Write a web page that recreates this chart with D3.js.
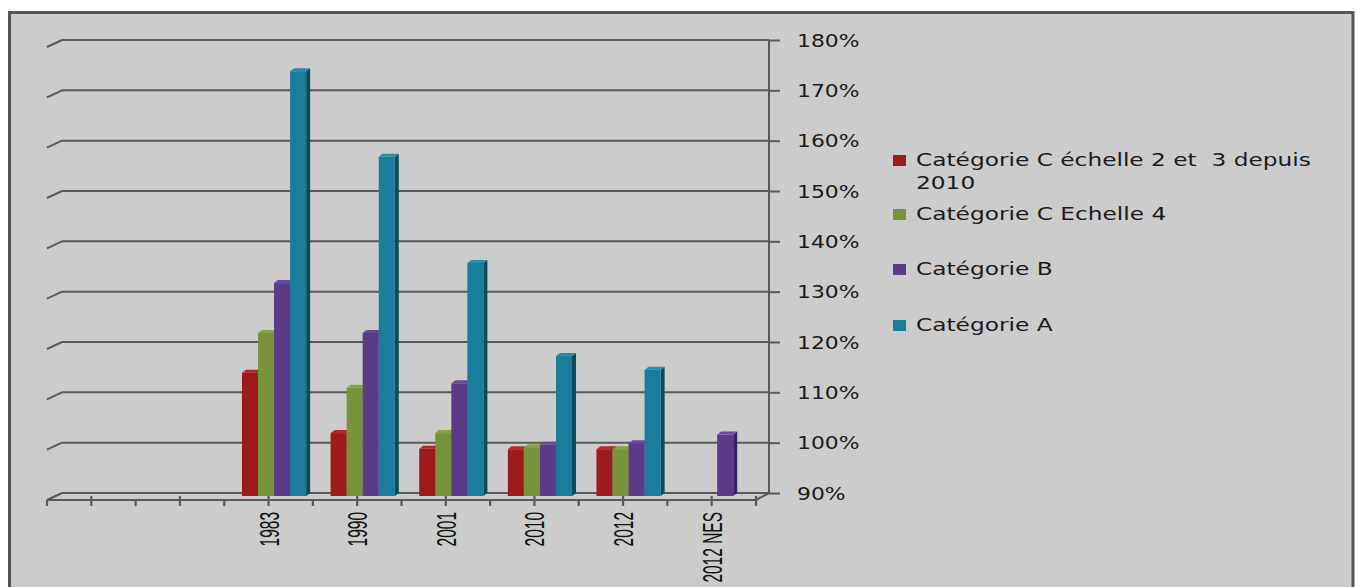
<!DOCTYPE html>
<html>
<head>
<meta charset="utf-8">
<script src="https://cdn.jsdelivr.net/npm/d3@7"></script>
<style>
  html, body { margin: 0; padding: 0; background: #ffffff; }
  svg { display: block; }
  text { white-space: pre; }
</style>
</head>
<body>
<svg id="chart" width="1356" height="587"></svg>
<script>
// ---- data ----
const categories = ["", "", "1983", "1990", "2001", "2010", "2012", "2012 NES"];
const seriesNames = [
  "Catégorie C échelle 2 et  3 depuis 2010",
  "Catégorie C Echelle 4",
  "Catégorie B",
  "Catégorie A"
];
const catC23 = [null, null, 114.5, 102.5, 99.4, 99.3, 99.3, null];
const catC4  = [null, null, 122.4, 111.5, 102.5, 99.7, 99.3, null];
const catB   = [null, null, 132.3, 122.4, 112.4, 100.2, 100.5, 102.2];
const catA   = [null, null, 174.4, 157.4, 136.3, 117.8, 115.1, null];
const yTicks = [90, 100, 110, 120, 130, 140, 150, 160, 170, 180];

const seriesValues = [catC23, catC4, catB, catA];
const frontColors = ["#9e1b1b", "#77933c", "#5b3b88", "#1b7d9c"];
const sideColors  = ["#6a1010", "#4f6326", "#3a2262", "#0b4a60"];
const capColors   = ["#b02a2a", "#86a246", "#6a4a98", "#2a8cab"];

// ---- layout ----
const svg = d3.select("#chart");
const W = 1356, H = 587;

svg.append("rect").attr("x", 0).attr("y", 0).attr("width", W).attr("height", H).attr("fill", "#ffffff");
svg.append("rect").attr("x", 9.5).attr("y", 12.5).attr("width", 1343.5).attr("height", H + 20)
  .attr("fill", "#cccccc").attr("stroke", "#555555").attr("stroke-width", 3);

const backLeft = 62, backRight = 769;
const frontLeft = 47, frontRight = 756;
const depthDy = 7;

const y = d3.scaleLinear().domain([90, 180]).range([493, 40]);
const x = d3.scaleBand().domain(categories.map((c, i) => i)).range([frontLeft, frontRight]).padding(0);
const bw = x.bandwidth();
const inner = d3.scaleBand().domain(d3.range(seriesValues.length))
  .range([bw * 0.2, bw * 0.2 + bw * 0.724]).padding(0);

const gridColor = "#5a5a5a";

// gridlines with left slant
const grid = svg.append("g");
yTicks.forEach(t => {
  const yy = y(t);
  grid.append("line").attr("x1", backLeft).attr("x2", backRight).attr("y1", yy).attr("y2", yy)
    .attr("stroke", gridColor).attr("stroke-width", 2);
  grid.append("line").attr("x1", frontLeft).attr("y1", yy + depthDy).attr("x2", backLeft).attr("y2", yy)
    .attr("stroke", gridColor).attr("stroke-width", 2);
});

// right axis
const yAxis = d3.axisRight(y).tickValues(yTicks).tickSize(11).tickPadding(16)
  .tickFormat(d => d + "%");
const gy = svg.append("g").attr("transform", `translate(${backRight},0)`).call(yAxis);
gy.select(".domain").attr("stroke", gridColor).attr("stroke-width", 2).attr("d", `M0,${y(180)}V${y(90)}`);
gy.selectAll(".tick line").attr("stroke", gridColor).attr("stroke-width", 2);
gy.selectAll(".tick text")
  .attr("fill", "#1a1a1a")
  .attr("font-family", "DejaVu Sans, Verdana, sans-serif")
  .attr("font-size", 17.5)
  .attr("dy", "0.36em")
  .attr("x", 0)
  .attr("transform", "translate(28,0) scale(1.25,1)");

// floor front line and right slant
svg.append("line").attr("x1", frontLeft).attr("x2", frontRight).attr("y1", y(90) + depthDy).attr("y2", y(90) + depthDy)
  .attr("stroke", gridColor).attr("stroke-width", 2);
svg.append("line").attr("x1", frontRight).attr("y1", y(90) + depthDy).attr("x2", backRight).attr("y2", y(90))
  .attr("stroke", gridColor).attr("stroke-width", 2);

// x ticks
const xt = svg.append("g");
const baseY = y(90) + depthDy;
categories.forEach((c, i) => {
  const x0 = x(i);
  xt.append("line").attr("x1", x0).attr("x2", x0).attr("y1", baseY).attr("y2", baseY + 6)
    .attr("stroke", gridColor).attr("stroke-width", 2.2);
  xt.append("line").attr("x1", x0 + bw / 2).attr("x2", x0 + bw / 2).attr("y1", baseY - 4).attr("y2", baseY + 6)
    .attr("stroke", gridColor).attr("stroke-width", 2.2);
});
xt.append("line").attr("x1", frontRight).attr("x2", frontRight).attr("y1", baseY - 4).attr("y2", baseY + 6)
  .attr("stroke", gridColor).attr("stroke-width", 2.2);

// x labels
categories.forEach((c, i) => {
  if (!c) return;
  const cx = x(i) + bw / 2;
  svg.append("text")
    .attr("transform", `translate(${cx},512) rotate(-90) scale(1,1.8)`)
    .attr("text-anchor", "end")
    .attr("dy", "0.36em")
    .attr("font-family", "Liberation Sans Narrow, Liberation Sans, Arial, sans-serif")
    .attr("font-size", 15.5)
    .attr("fill", "#111111")
    .text(c);
});

// bars
const barBase = y(90) + 3;
const dx = 4, dy = 3;
const bars = svg.append("g");
categories.forEach((c, i) => {
  seriesValues.forEach((vals, s) => {
    const v = vals[i];
    if (v == null) return;
    const bx = x(i) + inner(s);
    const w = inner.bandwidth();
    const top = y(v) + dy;
    bars.append("polygon")
      .attr("points", [[bx + w, top], [bx + w + dx, top - dy], [bx + w + dx, barBase - dy], [bx + w, barBase]].join(" "))
      .attr("fill", sideColors[s]);
    bars.append("rect").attr("x", bx).attr("y", top).attr("width", w).attr("height", barBase - top)
      .attr("fill", frontColors[s]);
    bars.append("polygon")
      .attr("points", [[bx, top], [bx + dx, top - dy], [bx + w + dx, top - dy], [bx + w, top]].join(" "))
      .attr("fill", capColors[s]);
  });
});

// legend
const legendRows = [
  { lines: ["Catégorie C échelle 2 et  3 depuis", "2010"], cy: 160 },
  { lines: ["Catégorie C Echelle 4"], cy: 214 },
  { lines: ["Catégorie B"], cy: 269 },
  { lines: ["Catégorie A"], cy: 325 }
];
const lg = svg.append("g");
legendRows.forEach((r, s) => {
  lg.append("rect").attr("x", 893).attr("y", r.cy - 5).attr("width", 13).attr("height", 11)
    .attr("fill", frontColors[s]);
  r.lines.forEach((ln, k) => {
    lg.append("text")
      .attr("transform", `translate(916,${r.cy + k * 23}) scale(1.33,1)`)
      .attr("dy", "0.36em")
      .attr("font-family", "DejaVu Sans, Verdana, sans-serif")
      .attr("font-size", 17.5)
      .attr("fill", "#1a1a1a")
      .attr("xml:space", "preserve")
      .text(ln);
  });
});
</script>
</body>
</html>
